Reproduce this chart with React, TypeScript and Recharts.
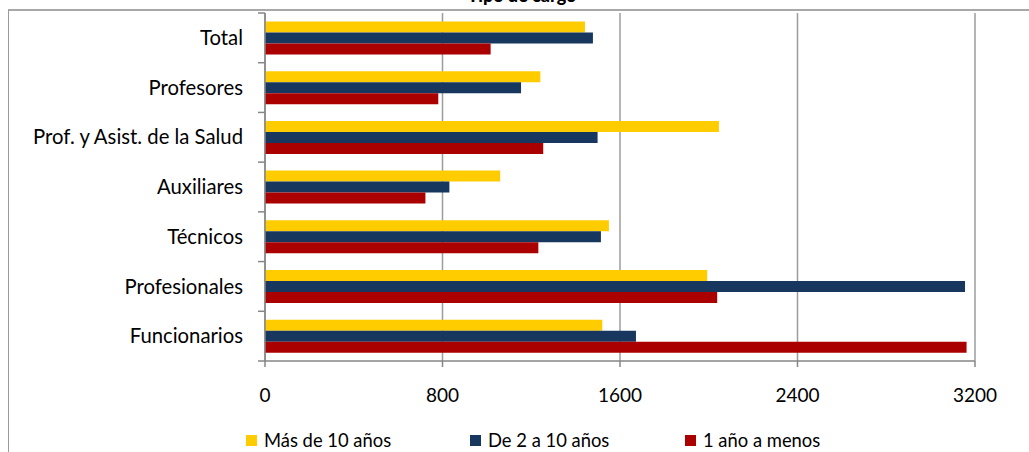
import React from "react";
import { BarChart, Bar, XAxis, YAxis, CartesianGrid, Legend } from "recharts";

const categories = [
  "Total",
  "Profesores",
  "Prof. y Asist. de la Salud",
  "Auxiliares",
  "Técnicos",
  "Profesionales",
  "Funcionarios",
];
const masDe10 = [1442, 1241, 2046, 1060, 1550, 1993, 1520];
const de2a10 = [1478, 1154, 1499, 831, 1514, 3155, 1672];
const unAnoMenos = [1017, 781, 1254, 723, 1232, 2038, 3162];
const xTicks = [0, 800, 1600, 2400, 3200];

const series = [
  { key: "mas10", name: "Más de 10 años", color: "#FFCC00", values: masDe10 },
  { key: "de2a10", name: "De 2 a 10 años", color: "#17375E", values: de2a10 },
  { key: "menos1", name: "1 año a menos", color: "#AA0000", values: unAnoMenos },
];

const data = categories.map((name, i) => {
  const row: Record<string, string | number> = { name };
  series.forEach((s) => (row[s.key] = s.values[i]));
  return row;
});

const W = 1029;
const H = 452;
const X_H = 40;
const LEG_H = 20;
const MARGIN = { top: 13, right: 54, left: 0, bottom: 31 };
const Y_W = 265;
const PLOT_H = H - MARGIN.top - MARGIN.bottom - X_H - LEG_H;
const BAND = PLOT_H / categories.length;
const AXIS = "#868686";
const FONT = "Lato, 'Open Sans', sans-serif";

// category label centred in its band, tick marks on band edges (Excel style)
const CatTick = (props: any) => {
  const { x, y, payload, index } = props;
  const top = y - BAND / 2;
  return (
    <g>
      <line x1={x - 7} x2={x} y1={top} y2={top} stroke={AXIS} strokeWidth={1.5} />
      {index === categories.length - 1 && (
        <line x1={x - 7} x2={x} y1={y + BAND / 2} y2={y + BAND / 2} stroke={AXIS} strokeWidth={1.5} />
      )}
      <text x={x - 22} y={y} dy="0.35em" textAnchor="end" fill="#000" fontSize={20.3} fontFamily={FONT}>
        {payload.value}
      </text>
    </g>
  );
};

const LegendBox = () => {
  const lefts = [246, 470, 685];
  return (
    <div style={{ position: "relative", width: W, height: 20 }}>
      {series.map((s, i) => (
        <div
          key={s.key}
          style={{
            position: "absolute",
            left: lefts[i],
            top: 0,
            height: 20,
            display: "flex",
            alignItems: "center",
            fontFamily: FONT,
            fontSize: 18.4,
            color: "#000",
            whiteSpace: "nowrap",
          }}
        >
          <span style={{ width: 11, height: 11, background: s.color, marginRight: 7, display: "inline-block" }} />
          {s.name}
        </div>
      ))}
    </div>
  );
};

export default function App() {
  return (
    <div style={{ position: "absolute", left: 0, top: 0, width: W, height: H, overflow: "hidden", background: "#fff" }}>
      {/* chart frame, cut off at right and bottom */}
      <div
        style={{
          position: "absolute",
          left: 8,
          top: 9,
          width: 1200,
          height: 600,
          borderLeft: "1.5px solid #9a9a9a",
          borderTop: "2px solid #a8a8a8",
        }}
      />
      {/* title, mostly outside the picture */}
      <svg width={W} height={20} style={{ position: "absolute", left: 0, top: 0 }}>
        <text x={522} y={1.5} textAnchor="middle" fontSize={18} fontWeight={900} fontFamily={FONT} fill="#000">
          Tipo de cargo
        </text>
      </svg>
      <div style={{ position: "absolute", left: 0, top: 0 }}>
        <BarChart
          width={W}
          height={H}
          data={data}
          layout="vertical"
          margin={MARGIN}
          barCategoryGap="17%"
          barGap={0}
        >
          <CartesianGrid horizontal={false} stroke="#9c9c9c" strokeWidth={1.5} />
          <XAxis
            type="number"
            domain={[0, 3200]}
            ticks={xTicks}
            height={X_H}
            tickSize={6}
            tickMargin={22}
            axisLine={{ stroke: AXIS, strokeWidth: 1.5 }}
            tickLine={{ stroke: AXIS, strokeWidth: 1.5 }}
            tick={{ fill: "#000", fontSize: 19, fontFamily: FONT }}
          />
          <YAxis
            type="category"
            dataKey="name"
            width={Y_W}
            tickSize={0}
            tickMargin={0}
            tickLine={false}
            axisLine={{ stroke: AXIS, strokeWidth: 1.5 }}
            tick={<CatTick />}
            interval={0}
          />
          <Legend
            verticalAlign="bottom"
            height={LEG_H}
            content={<LegendBox />}
            wrapperStyle={{ left: 0, top: 430, width: W, height: LEG_H }}
          />
          {series.map((s) => (
            <Bar key={s.key} dataKey={s.key} name={s.name} fill={s.color} isAnimationActive={false} />
          ))}
        </BarChart>
      </div>
    </div>
  );
}
